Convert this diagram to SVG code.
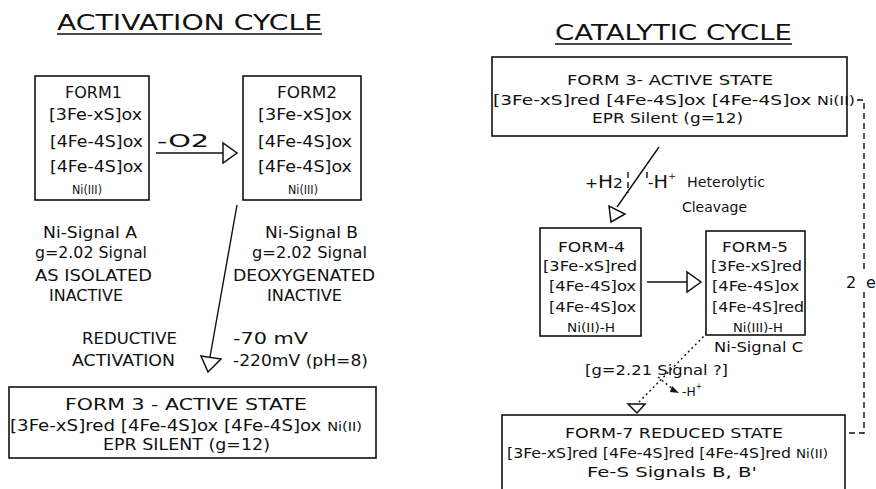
<svg xmlns="http://www.w3.org/2000/svg" width="876" height="489" viewBox="0 0 876 489">
<style>
text{font-family:"DejaVu Sans","Liberation Sans",sans-serif;fill:#111}
.t{font-size:21px}
.b{font-size:15px}
.s{font-size:13.5px}
.n{font-size:12.5px}
.box{fill:#fff;stroke:#111;stroke-width:1.6}
.ln{stroke:#111;stroke-width:1.4;fill:none}
.head{fill:#fff;stroke:#111;stroke-width:1.5}
.dash{stroke:#111;stroke-width:1.4;fill:none;stroke-dasharray:6 4}
.dot{stroke:#111;stroke-width:1.4;fill:none;stroke-dasharray:2 3}
</style>
<rect width="876" height="489" fill="#fff"/>

<g id="title-activation">
<text class="t" x="57" y="30" textLength="265" lengthAdjust="spacingAndGlyphs">ACTIVATION  CYCLE</text>
<line class="ln" x1="57" y1="34" x2="322" y2="34"/>
</g>
<g id="title-catalytic">
<text class="t" x="555" y="40" textLength="237" lengthAdjust="spacingAndGlyphs">CATALYTIC  CYCLE</text>
<line class="ln" x1="555" y1="44" x2="792" y2="44"/>
</g>

<g id="connectors">
<line class="ln" x1="156" y1="153" x2="223" y2="153"/>
<polygon class="head" points="223,143 223,163 237,153"/>
<line class="ln" x1="237" y1="205" x2="210" y2="357"/>
<polygon class="head" points="201,356 221,359 208,372"/>
<line class="ln" x1="659" y1="147" x2="617" y2="207"/>
<polygon class="head" points="609,206 611,222 625,214"/>
<line class="dash" x1="628" y1="172" x2="628" y2="193" stroke-dasharray="4 3"/>
<line class="dash" x1="647" y1="172" x2="647" y2="178" stroke-dasharray="3 2"/>
<line class="ln" x1="647" y1="282" x2="687" y2="282"/>
<polygon class="head" points="687,272 687,292 701,282"/>
<line class="dot" x1="707" y1="333" x2="638" y2="403"/>
<polygon class="head" points="628,404 645,404 637,413"/>
<line class="dot" x1="658" y1="377" x2="675" y2="391"/>
<polygon points="672,386 679,393 670,392" fill="#111"/>
<path class="dash" d="M857,100 H864 V270 M864,292 V433 H846"/>
</g>

<g id="form1">
<rect class="box" x="35" y="76" width="114" height="124"/>
<text class="b" x="65" y="98" textLength="57" lengthAdjust="spacingAndGlyphs">FORM1</text>
<text class="b" x="49" y="120" textLength="93" lengthAdjust="spacingAndGlyphs">[3Fe-xS]ox</text>
<text class="b" x="50" y="147" textLength="93" lengthAdjust="spacingAndGlyphs">[4Fe-4S]ox</text>
<text class="b" x="50" y="172" textLength="93" lengthAdjust="spacingAndGlyphs">[4Fe-4S]ox</text>
<text class="n" x="72" y="194" textLength="30" lengthAdjust="spacingAndGlyphs">Ni(III)</text>
</g>

<g id="form2">
<rect class="box" x="243" y="76" width="118" height="124"/>
<text class="b" x="277" y="98" textLength="60" lengthAdjust="spacingAndGlyphs">FORM2</text>
<text class="b" x="258" y="120" textLength="94" lengthAdjust="spacingAndGlyphs">[3Fe-xS]ox</text>
<text class="b" x="258" y="147" textLength="94" lengthAdjust="spacingAndGlyphs">[4Fe-4S]ox</text>
<text class="b" x="258" y="172" textLength="94" lengthAdjust="spacingAndGlyphs">[4Fe-4S]ox</text>
<text class="n" x="288" y="194" textLength="30" lengthAdjust="spacingAndGlyphs">Ni(III)</text>
</g>

<g id="label-o2">
<text x="157" y="147" font-size="18" textLength="52" lengthAdjust="spacingAndGlyphs">-O2</text>
</g>

<g id="notes-form1">
<text class="b" x="43" y="238" textLength="94" lengthAdjust="spacingAndGlyphs">Ni-Signal  A</text>
<text class="b" x="35" y="258" textLength="112" lengthAdjust="spacingAndGlyphs">g=2.02  Signal</text>
<text class="b" x="35" y="281" textLength="117" lengthAdjust="spacingAndGlyphs">AS  ISOLATED</text>
<text class="b" x="49" y="301" textLength="74" lengthAdjust="spacingAndGlyphs">INACTIVE</text>
</g>
<g id="notes-form2">
<text class="b" x="265" y="238" textLength="93" lengthAdjust="spacingAndGlyphs">Ni-Signal  B</text>
<text class="b" x="252" y="258" textLength="115" lengthAdjust="spacingAndGlyphs">g=2.02  Signal</text>
<text class="b" x="233" y="281" textLength="142" lengthAdjust="spacingAndGlyphs">DEOXYGENATED</text>
<text class="b" x="267" y="301" textLength="75" lengthAdjust="spacingAndGlyphs">INACTIVE</text>
</g>

<g id="label-reductive">
<text class="b" x="82" y="344" textLength="95" lengthAdjust="spacingAndGlyphs">REDUCTIVE</text>
<text class="b" x="72" y="366" textLength="103" lengthAdjust="spacingAndGlyphs">ACTIVATION</text>
<text class="b" x="233" y="344" textLength="75" lengthAdjust="spacingAndGlyphs">-70  mV</text>
<text class="b" x="233" y="366" textLength="135" lengthAdjust="spacingAndGlyphs">-220mV  (pH=8)</text>
</g>

<g id="form3-left">
<rect class="box" x="9" y="387" width="367" height="71"/>
<text class="b" x="65" y="410" textLength="242" lengthAdjust="spacingAndGlyphs">FORM  3  -  ACTIVE  STATE</text>
<text class="b" x="10" y="431" textLength="352" lengthAdjust="spacingAndGlyphs">[3Fe-xS]red [4Fe-4S]ox [4Fe-4S]ox <tspan font-size="12">Ni(II)</tspan></text>
<text class="b" x="103" y="450" textLength="167" lengthAdjust="spacingAndGlyphs">EPR  SILENT  (g=12)</text>
</g>

<g id="form3-right">
<rect class="box" x="492" y="57" width="355" height="79"/>
<text class="s" x="567" y="85" textLength="206" lengthAdjust="spacingAndGlyphs">FORM  3-  ACTIVE  STATE</text>
<text class="s" x="493" y="105" textLength="362" lengthAdjust="spacingAndGlyphs">[3Fe-xS]red   [4Fe-4S]ox [4Fe-4S]ox <tspan font-size="11.5">Ni(II)</tspan></text>
<text class="s" x="592" y="123" textLength="151" lengthAdjust="spacingAndGlyphs">EPR  Silent  (g=12)</text>
</g>

<g id="label-h2">
<text x="585" y="188" font-size="14" textLength="38" lengthAdjust="spacingAndGlyphs">+<tspan font-size="18">H</tspan>2</text>
<text x="648" y="188" font-size="14" textLength="28" lengthAdjust="spacingAndGlyphs">-<tspan font-size="18">H</tspan><tspan font-size="9" dy="-9">+</tspan></text>
<text class="s" x="687" y="187" textLength="78" lengthAdjust="spacingAndGlyphs">Heterolytic</text>
<text class="s" x="682" y="212" textLength="65" lengthAdjust="spacingAndGlyphs">Cleavage</text>
</g>

<g id="label-2e">
<text x="846" y="288" font-size="16">2 <tspan x="866">e</tspan></text>
</g>

<g id="form4">
<rect class="box" x="540" y="228" width="101" height="108"/>
<text class="s" x="558" y="252" textLength="67" lengthAdjust="spacingAndGlyphs">FORM-4</text>
<text class="s" x="543" y="271" textLength="94" lengthAdjust="spacingAndGlyphs">[3Fe-xS]red</text>
<text class="s" x="549" y="291" textLength="87" lengthAdjust="spacingAndGlyphs">[4Fe-4S]ox</text>
<text class="s" x="549" y="312" textLength="87" lengthAdjust="spacingAndGlyphs">[4Fe-4S]ox</text>
<text class="n" x="567" y="332" textLength="48" lengthAdjust="spacingAndGlyphs">Ni(II)-H</text>
</g>

<g id="form5">
<rect class="box" x="706" y="231" width="99" height="104"/>
<text class="s" x="722" y="252" textLength="66" lengthAdjust="spacingAndGlyphs">FORM-5</text>
<text class="s" x="711" y="271" textLength="91" lengthAdjust="spacingAndGlyphs">[3Fe-xS]red</text>
<text class="s" x="712" y="291" textLength="87" lengthAdjust="spacingAndGlyphs">[4Fe-4S]ox</text>
<text class="s" x="712" y="312" textLength="92" lengthAdjust="spacingAndGlyphs">[4Fe-4S]red</text>
<text class="n" x="733" y="332" textLength="50" lengthAdjust="spacingAndGlyphs">Ni(III)-H</text>
<text class="s" x="714" y="352" textLength="89" lengthAdjust="spacingAndGlyphs">Ni-Signal  C</text>
</g>

<g id="label-g221">
<text class="s" x="585" y="375" textLength="143" lengthAdjust="spacingAndGlyphs">[g=2.21  Signal    ?]</text>
<text x="682" y="396" font-size="13" textLength="20" lengthAdjust="spacingAndGlyphs">-H<tspan font-size="8" dy="-7">+</tspan></text>
</g>

<g id="form7">
<rect class="box" x="502" y="415" width="343" height="85"/>
<text class="s" x="565" y="438" textLength="218" lengthAdjust="spacingAndGlyphs">FORM-7  REDUCED  STATE</text>
<text class="s" x="507" y="458" textLength="321" lengthAdjust="spacingAndGlyphs">[3Fe-xS]red [4Fe-4S]red [4Fe-4S]red <tspan font-size="11.5">Ni(II)</tspan></text>
<text class="s" x="587" y="477" textLength="170" lengthAdjust="spacingAndGlyphs">Fe-S  Signals  B,  B'</text>
</g>
</svg>
